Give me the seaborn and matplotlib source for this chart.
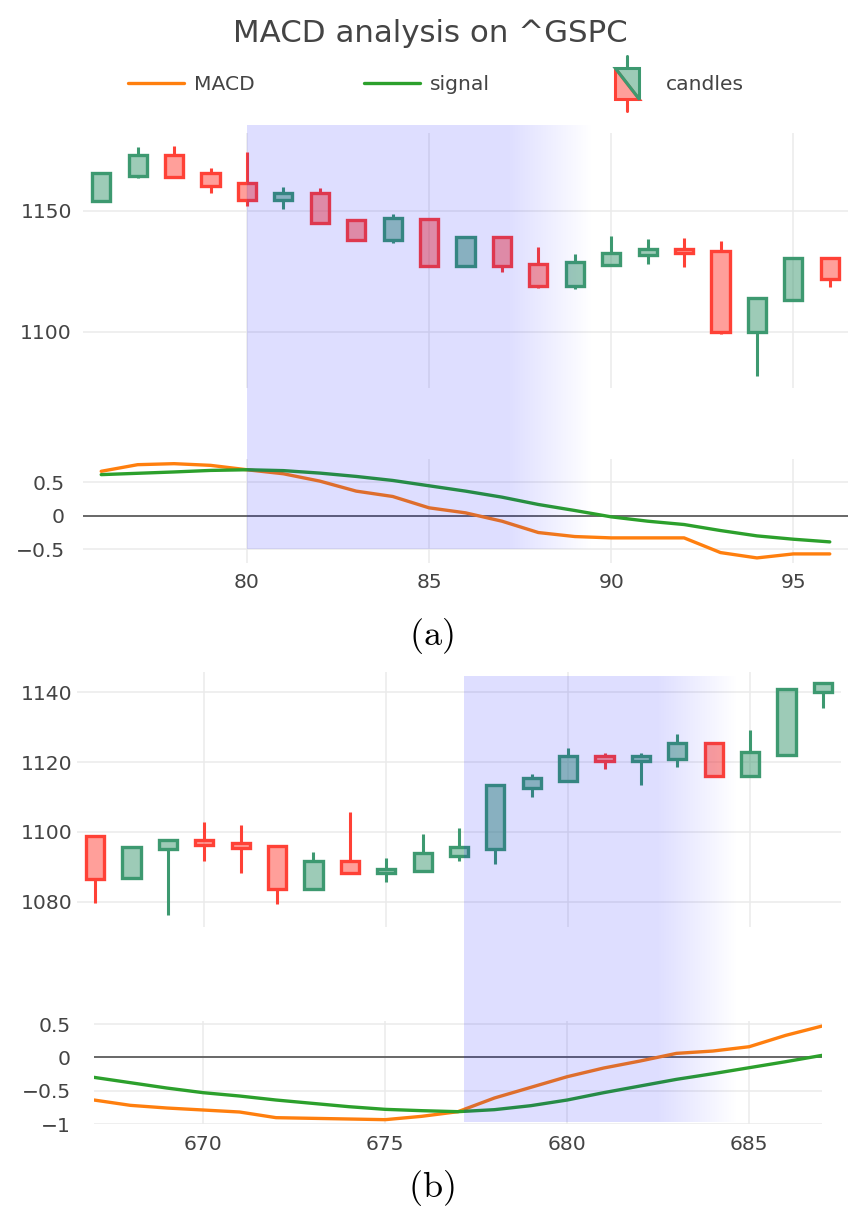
import numpy as np
import pandas as pd
import matplotlib
matplotlib.use("Agg")
import matplotlib.pyplot as plt
import seaborn as sns
from matplotlib.colors import to_rgba
from matplotlib.lines import Line2D
from matplotlib.patches import Polygon, Patch
from matplotlib.legend_handler import HandlerBase


# ---- panel (a) data ----
days_a = list(range(76, 97))
open_a = [1154.0, 1164.5, 1173.0, 1165.4, 1161.3, 1154.4, 1157.2, 1146.1, 1137.9, 1146.7, 1127.1,
          1139.3, 1128.0, 1118.9, 1127.7, 1131.7, 1134.0, 1133.5, 1100.0, 1113.0, 1130.6]
high_a = [1165.7, 1176.4, 1176.9, 1167.5, 1174.1, 1159.6, 1159.2, 1146.1, 1148.6, 1146.7, 1139.3,
          1139.3, 1135.1, 1132.0, 1139.5, 1138.3, 1138.6, 1137.5, 1113.8, 1130.6, 1130.6]
low_a = [1153.6, 1163.4, 1163.5, 1157.4, 1151.9, 1150.8, 1144.8, 1137.9, 1136.8, 1127.1, 1127.1,
         1124.5, 1117.9, 1117.5, 1127.7, 1127.8, 1126.9, 1098.9, 1081.7, 1113.0, 1118.6]
close_a = [1165.7, 1173.0, 1164.0, 1160.2, 1154.4, 1157.2, 1144.8, 1137.9, 1146.8, 1127.1, 1139.3,
           1127.1, 1118.9, 1128.6, 1132.6, 1134.0, 1132.4, 1100.0, 1113.8, 1130.6, 1121.6]
macd_a = [0.667, 0.766, 0.781, 0.756, 0.69, 0.63, 0.52, 0.37, 0.29, 0.12, 0.045,
          -0.08, -0.25, -0.31, -0.33, -0.33, -0.33, -0.55, -0.63, -0.57, -0.57]
signal_a = [0.617, 0.637, 0.657, 0.68, 0.69, 0.677, 0.64, 0.59, 0.53, 0.45, 0.37,
            0.28, 0.17, 0.08, -0.015, -0.08, -0.13, -0.22, -0.30, -0.35, -0.39]

# ---- panel (b) data ----
days_b = list(range(667, 688))
open_b = [1098.9, 1086.7, 1095.0, 1097.6, 1096.8, 1096.0, 1083.6, 1091.8, 1088.3, 1088.8, 1093.1,
          1095.0, 1112.7, 1114.6, 1121.7, 1120.2, 1120.8, 1125.4, 1116.1, 1122.0, 1140.0]
high_b = [1098.9, 1095.8, 1097.6, 1102.7, 1102.0, 1096.0, 1094.1, 1105.8, 1092.4, 1099.5, 1101.1,
          1113.7, 1116.6, 1124.0, 1122.5, 1122.5, 1128.1, 1125.4, 1129.1, 1140.8, 1142.7]
low_b = [1079.5, 1086.7, 1076.3, 1091.8, 1088.3, 1079.3, 1083.6, 1088.3, 1085.5, 1088.8, 1091.8,
         1090.7, 1110.0, 1114.6, 1118.1, 1113.3, 1118.7, 1116.1, 1116.1, 1122.0, 1135.4]
close_b = [1086.6, 1095.8, 1097.6, 1096.1, 1095.3, 1083.6, 1091.8, 1088.3, 1089.5, 1093.9, 1095.7,
           1113.4, 1115.4, 1121.7, 1120.2, 1121.7, 1125.4, 1116.1, 1122.8, 1140.8, 1142.7]
macd_b = [-0.64, -0.72, -0.76, -0.79, -0.82, -0.905, -0.915, -0.925, -0.935, -0.885, -0.815,
          -0.61, -0.45, -0.29, -0.16, -0.055, 0.06, 0.095, 0.16, 0.33, 0.47]
signal_b = [-0.30, -0.38, -0.46, -0.53, -0.58, -0.64, -0.69, -0.74, -0.78, -0.80, -0.815,
            -0.785, -0.725, -0.64, -0.53, -0.43, -0.33, -0.245, -0.155, -0.065, 0.03]

# highlighted window: start, end of full colour, end of fade
shade_a = [80.0, 87.2, 89.5]
shade_b = [677.15, 682.5, 684.7]

# ticks
xticks_a = [80, 85, 90, 95]
xticks_b = [670, 675, 680, 685]
price_ticks_a = [1100, 1150]
price_ticks_b = [1080, 1100, 1120, 1140]
macd_ticks_a = [-0.5, 0, 0.5]
macd_labels_a = ["\u22120.5", "0", "0.5"]
macd_ticks_b = [-1, -0.5, 0, 0.5]
macd_labels_b = ["\u22121", "\u22120.5", "0", "0.5"]

UP, DOWN = "#3D9970", "#FF4136"
C_MACD, C_SIGNAL = "#ff7f0e", "#2ca02c"
TXT = "#444444"
GRID = "#ebebeb"

sns.set_theme(style="whitegrid")
plt.rcParams["font.family"] = ["DejaVu Sans"]
plt.rcParams["mathtext.fontset"] = "cm"

W, H = 866, 1216
fig = plt.figure(figsize=(W / 100, H / 100), dpi=100)
fig.patch.set_facecolor("white")


def px_box(left, top, right, bottom):
    return [left / W, 1 - bottom / H, (right - left) / W, (bottom - top) / H]


def style_axis(ax, ypad, xpad=7):
    for s in ax.spines.values():
        s.set_visible(False)
    ax.set_facecolor("white")
    ax.grid(True, color=GRID, lw=1.1)
    ax.set_axisbelow(True)
    ax.tick_params(length=0, labelsize=14.6, labelcolor=TXT)
    ax.tick_params(axis="y", pad=ypad)
    ax.tick_params(axis="x", pad=xpad)
    ax.set_xlabel("")
    ax.set_ylabel("")


def draw_candles(ax, x, o, h, l, c):
    o, h, l, c = map(np.asarray, (o, h, l, c))
    x = np.asarray(x)
    up = c >= o
    top = np.maximum(o, c)
    bot = np.minimum(o, c)
    for mask, col in ((up, UP), (~up, DOWN)):
        ax.vlines(x[mask], l[mask], bot[mask], color=col, lw=2.2, zorder=2)
        ax.vlines(x[mask], top[mask], h[mask], color=col, lw=2.2, zorder=2)
        ax.bar(x[mask], top[mask] - bot[mask], bottom=bot[mask], width=0.5,
               facecolor=to_rgba(col, 0.5), edgecolor=col, linewidth=2.4, zorder=3)


def draw_macd(ax, x, macd, signal):
    df = pd.DataFrame({"day": x, "MACD": macd, "signal": signal})
    ax.axhline(0, color=TXT, lw=1.1, zorder=1)
    sns.lineplot(data=df, x="day", y="MACD", ax=ax, color=C_MACD, lw=2.4, zorder=3)
    sns.lineplot(data=df, x="day", y="signal", ax=ax, color=C_SIGNAL, lw=2.4, zorder=3)


# ---- panel (a) ----
ax_ca = fig.add_axes(px_box(83, 133, 848, 388))
ax_ma = fig.add_axes(px_box(83, 459, 848, 563))
draw_candles(ax_ca, days_a, open_a, high_a, low_a, close_a)
draw_macd(ax_ma, days_a, macd_a, signal_a)
ax_ca.set_xlim(75.5, 96.5)
ax_ca.set_ylim(1076.7, 1182.1)
ax_ma.set_xlim(75.5, 96.5)
ax_ma.set_ylim(-0.706, 0.851)
style_axis(ax_ca, ypad=8)
style_axis(ax_ma, ypad=13, xpad=7)
ax_ca.set_xticks(xticks_a)
ax_ca.set_xticklabels([])
ax_ca.set_yticks(price_ticks_a)
ax_ma.set_xticks(xticks_a)
ax_ma.set_yticks(macd_ticks_a)
ax_ma.set_yticklabels(macd_labels_a)

# ---- panel (b) ----
ax_cb = fig.add_axes(px_box(77, 672, 841, 927))
ax_mb = fig.add_axes(px_box(94, 1021, 822, 1124))
draw_candles(ax_cb, days_b, open_b, high_b, low_b, close_b)
draw_macd(ax_mb, days_b, macd_b, signal_b)
ax_cb.set_xlim(666.5, 687.5)
ax_cb.set_ylim(1072.75, 1145.8)
ax_mb.set_xlim(667, 687)
ax_mb.set_ylim(-0.975, 0.546)
style_axis(ax_cb, ypad=3)
style_axis(ax_mb, ypad=16.5, xpad=8)
ax_cb.set_xticks(xticks_b)
ax_cb.set_xticklabels([])
ax_cb.set_yticks(price_ticks_b)
ax_mb.set_xticks(xticks_b)
ax_mb.set_yticks(macd_ticks_b)
ax_mb.set_yticklabels(macd_labels_b)

# ---- highlighted window overlay (spans price + MACD panels) ----
overlay = fig.add_axes([0, 0, 1, 1], zorder=10)
overlay.set_axis_off()
overlay.patch.set_alpha(0)
to_fig = fig.transFigure.inverted()


def shade(ax_top, y_top, ax_bot, y_bot, window):
    x0, x_full, x1 = window
    fx0, fy1 = to_fig.transform(ax_top.transData.transform((x0, y_top)))
    fx1, _ = to_fig.transform(ax_top.transData.transform((x1, y_top)))
    _, fy0 = to_fig.transform(ax_bot.transData.transform((x0, y_bot)))
    xs = np.linspace(x0, x1, 400)
    alpha = np.interp(xs, [x0, x_full, x1], [0.13, 0.13, 0.0])
    grad = np.zeros((1, len(xs), 4))
    grad[..., 2] = 1.0
    grad[..., 3] = alpha
    overlay.imshow(grad, extent=(fx0, fx1, fy0, fy1), aspect="auto",
                   interpolation="bilinear")


shade(ax_ca, 1185.0, ax_ma, -0.5, shade_a)
shade(ax_cb, 1144.4, ax_mb, -0.975, shade_b)
overlay.set_xlim(0, 1)
overlay.set_ylim(0, 1)

# ---- title, legend, captions ----
fig.text(430 / W, 1 - 34 / H, "MACD analysis on ^GSPC", ha="center", va="center",
         fontsize=22.2, color=TXT)


class CandleIcon(HandlerBase):
    def create_artists(self, legend, orig_handle, xdescent, ydescent, width, height,
                       fontsize, trans):
        cx = width / 2 - xdescent
        cy = height / 2 - ydescent
        bw, bh, wk = 1.18 * fontsize, 1.53 * fontsize, 0.6 * fontsize
        l, r, b, t = cx - bw / 2, cx + bw / 2, cy - bh / 2, cy + bh / 2
        red = Polygon([[l, t], [l, b], [r, b]], closed=True, facecolor=to_rgba(DOWN, 0.5),
                      edgecolor=DOWN, lw=2.2, transform=trans)
        green = Polygon([[l, t], [r, t], [r, b]], closed=True, facecolor=to_rgba(UP, 0.5),
                        edgecolor=UP, lw=2.2, transform=trans)
        w_up = Line2D([cx, cx], [t, t + wk], color=UP, lw=2.2, transform=trans)
        w_dn = Line2D([cx, cx], [b - wk, b], color=DOWN, lw=2.2, transform=trans)
        return [w_up, w_dn, red, green]


candle_proxy = Patch(facecolor="none")
handles = [Line2D([], [], color=C_MACD, lw=2.4), Line2D([], [], color=C_SIGNAL, lw=2.4),
           candle_proxy]
fig.legend(handles, ["MACD", "signal", "candles"], loc="center left",
           bbox_to_anchor=(128 / W, 1 - 85 / H), ncol=3, frameon=False, fontsize=14.6,
           labelcolor=TXT, handlelength=2.75, handletextpad=0.5, columnspacing=5.4,
           borderpad=0, borderaxespad=0, handler_map={candle_proxy: CandleIcon()})

fig.text(431 / W, 1 - 636 / H, r"$(\mathrm{a})$", ha="center", va="center",
         fontsize=26, color="black")
fig.text(431 / W, 1 - 1188 / H, r"$(\mathrm{b})$", ha="center", va="center",
         fontsize=26, color="black")

fig.savefig("out.png", dpi=100, facecolor="white")
